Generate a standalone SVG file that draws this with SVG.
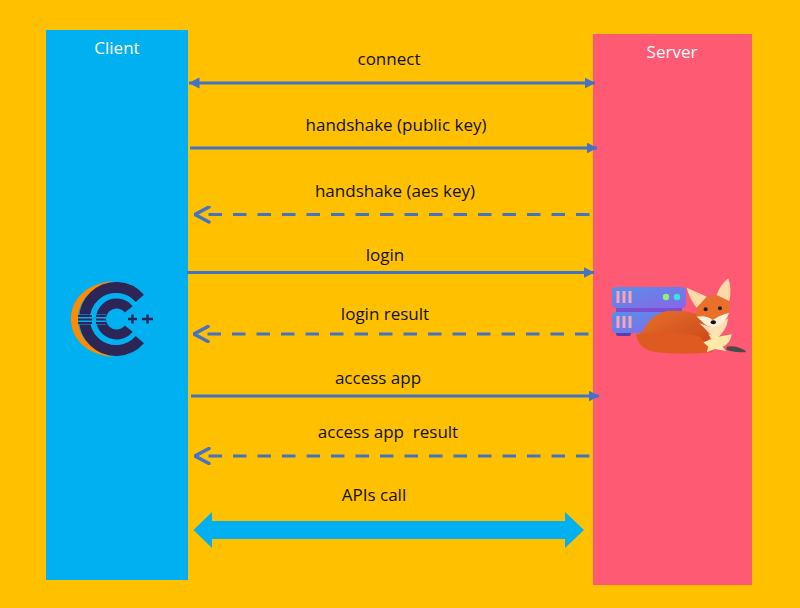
<svg xmlns="http://www.w3.org/2000/svg" width="800" height="608" viewBox="0 0 800 608">
<defs>
<linearGradient id="srv" x1="0" y1="0" x2="1" y2="1"><stop offset="0" stop-color="#5690EA"/><stop offset="1" stop-color="#8A66E6"/></linearGradient>
<linearGradient id="fur" x1="0" y1="0" x2="1" y2="1"><stop offset="0" stop-color="#E8702A"/><stop offset="1" stop-color="#C9481A"/></linearGradient>
<marker id="open" viewBox="0 0 17 18" refX="2" refY="9" markerWidth="17" markerHeight="18" markerUnits="userSpaceOnUse" orient="auto-start-reverse"><path d="M1.500 1.500 L15.500 9 L1.500 16.500" fill="none" stroke="#4472C4" stroke-width="3.400" stroke-linecap="round"/></marker>
<marker id="solid" viewBox="0 0 11 11" refX="10.500" refY="5.500" markerWidth="11" markerHeight="11" markerUnits="userSpaceOnUse" orient="auto-start-reverse"><path d="M0 0 L11 5.500 L0 11 Z" fill="#4472C4"/></marker>
</defs>
<style>
text{font-family:"Open Sans","Liberation Sans",sans-serif;font-size:17px;fill:#111;text-anchor:middle}
.h{fill:#fff}
.s{stroke:#4472C4;stroke-width:3;fill:none}
.d{stroke-dasharray:13.500 11}
</style>
<rect width="800" height="608" fill="#FFC000"/>
<g id="client">
<rect x="46" y="30" width="142" height="550" fill="#00B0F0"/>
<text class="h" x="117" y="54">Client</text>
<g id="cpp-logo">
<path d="M114 281 C88 283 71 298 71 319 C71 340 88 355 114 357 C95 352 78 340 78 319 C78 298 95 286 114 281 Z" fill="#FF8C00"/>
<path d="M139.800 298.300 A31.500 31.500 0 1 0 139.800 339.700" fill="none" stroke="#2E2557" stroke-width="11"/>
<path d="M134.100 304.800 A23 23 0 1 0 134.100 333.200" fill="none" stroke="#00B0F0" stroke-width="5.500"/>
<path d="M128.700 309.400 A15.500 15.500 0 1 0 128.700 328.600" fill="none" stroke="#2E2557" stroke-width="10"/>
<path d="M78 319.500H92M96 319.500H106" stroke="#00B0F0" stroke-width="10" fill="none"/>
<path d="M78 316H92M78 319.500H92M78 323H92M96 316H106M96 319.500H106M96 323H106" stroke="#2E2557" stroke-width="1.800" fill="none"/>
<path d="M128 319H137M132.500 314.500V323.500M142 319H153M147.500 314.500V323.500" stroke="#2E2557" stroke-width="2.400" fill="none"/>
</g>
</g>
<g id="server">
<rect x="593" y="34" width="159" height="551" fill="#FF5A73"/>
<text class="h" x="672" y="58">Server</text>
<g id="server-icon">
<rect x="616" y="331" width="15" height="5" rx="2" fill="#5B3FA8"/>
<rect x="616" y="306" width="66" height="8" fill="#7B4FD0"/>
<rect x="612" y="287" width="74" height="21" rx="4" fill="url(#srv)"/>
<rect x="612" y="312" width="74" height="21" rx="4" fill="url(#srv)"/>
<path d="M618 291V303M624 291V303M630 291V303M618 316V328M624 316V328M630 316V328" stroke="#F5A6B8" stroke-width="3" fill="none"/>
<circle cx="666" cy="297" r="3.200" fill="#8EF07A"/>
<circle cx="677" cy="297" r="3.200" fill="#3CE5D8"/>
</g>
<g id="fox" transform="translate(600 265) scale(.3333)">
<path d="M380 245 Q410 240 438 258 L436 262 Q400 262 380 255 Z" fill="#4A4A48"/>
<path d="M125 205 Q150 150 200 138 Q260 135 295 150 L330 215 L320 240 L130 220 Z" fill="url(#fur)"/>
<path d="M108 208 Q130 200 180 205 Q250 198 300 215 L340 262 Q250 270 170 262 Q115 255 108 208Z" fill="#DE5A20"/>
<path d="M298 175 Q330 205 345 225 Q380 200 385 160 L330 185 Z" fill="#FFE0B0"/>
<path d="M310 232 L335 222 L325 208 L355 215 L395 208 Q392 235 368 245 L378 258 L345 252 L320 262 L325 245 Z" fill="#FFE9A8"/>
<path d="M290 125 L320 95 Q350 85 362 95 L385 40 Q395 70 388 105 Q392 130 385 150 L350 180 Q335 185 320 175 L290 155 Z" fill="#E8702A"/>
<path d="M260 68 Q300 85 320 95 L290 128 Q268 100 260 68 Z M385 40 Q360 60 350 90 L388 108 Q396 70 385 40 Z" fill="#FFD9A8"/>
<path d="M290 155 Q320 150 338 165 Q360 150 387 143 Q380 170 350 185 Q330 190 315 178 Z" fill="#FFEFD8"/>
<circle cx="317" cy="133" r="6" fill="#222"/>
<circle cx="360" cy="130" r="6" fill="#222"/>
<ellipse cx="340" cy="172" rx="8" ry="6" fill="#111"/>
</g>
</g>
<g id="connectors">
<path class="s" d="M189 83H595" marker-start="url(#solid)" marker-end="url(#solid)"/>
<path class="s" d="M190 148H597" marker-end="url(#solid)"/>
<path class="s d" d="M208.500 214.500H592" marker-start="url(#open)"/>
<path class="s" d="M187 272.500H594" marker-end="url(#solid)"/>
<path class="s d" d="M207.500 334H592" marker-start="url(#open)"/>
<path class="s" d="M191 396H599" marker-end="url(#solid)"/>
<path class="s d" d="M208.500 456H592" marker-start="url(#open)"/>
<path d="M193.500 530 L212 512 V521 H565 V512 L584 530 L565 548 V539 H212 V548 Z" fill="#00B0F0"/>
</g>
<g id="labels">
<text x="389" y="65">connect</text>
<text x="396" y="131">handshake (public key)</text>
<text x="395" y="197">handshake (aes key)</text>
<text x="385" y="261">login</text>
<text x="385" y="320">login result</text>
<text x="378" y="384">access app</text>
<text x="388" y="438" xml:space="preserve">access app  result</text>
<text x="374" y="501">APIs call</text>
</g>
</svg>
